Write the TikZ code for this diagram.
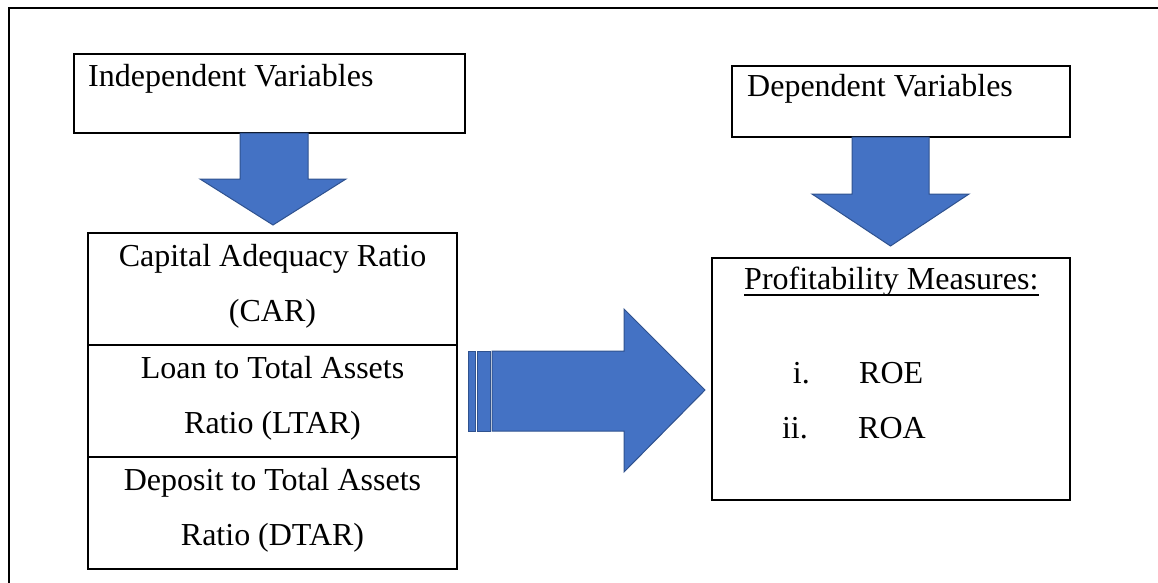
\documentclass[tikz,border=0pt]{standalone}
\usepackage{fontspec}
\setmainfont{Liberation Serif}
\usetikzlibrary{calc}
\definecolor{arrowblue}{HTML}{4472C4}
\definecolor{arrowedge}{HTML}{2F528F}
\begin{document}
\begin{tikzpicture}[x=1pt,y=-1pt,
    box/.style ={draw,line width=2.2pt,inner sep=0pt,outer sep=0pt},
    cell/.style ={box,minimum width=369pt,minimum height=112pt,align=center,text depth=13pt,font=\fontsize{32}{55}\selectfont},
    vartext/.style ={inner sep=0pt,anchor=base west,font=\fontsize{32}{38}\selectfont},
    blockarrow/.style ={fill=arrowblue,draw=arrowedge,line width=1pt,line join=miter}]
  \useasboundingbox (0,0) rectangle (1158,583);
  \draw[line width=2.4pt] (9,590) -- (9,8) -- (1165,8);
  % variable headings
  \node[box,minimum width=391pt,minimum height=79pt] (indep) at (269.5,93.5) {};
  \node[vartext] (indeplabel) at ($(indep.north west)+(14,33)$) {Independent Variables};
  \node[box,minimum width=338pt,minimum height=71pt] (dep) at (901,101.5) {};
  \node[vartext] (deplabel) at ($(dep.north west)+(15,31)$) {Dependent Variables};
  % independent ratios
  \node[cell] (car) at (272.5,289) {Capital Adequacy Ratio\\(CAR)};
  \node[cell,anchor=north] (ltar) at (car.south) {Loan to Total Assets\\Ratio (LTAR)};
  \node[cell,anchor=north] (dtar) at (ltar.south) {Deposit to Total Assets\\Ratio (DTAR)};
  % profitability
  \node[box,minimum width=358pt,minimum height=242pt] (profit) at (891,379) {};
  \node[vartext] (pm) at ($(profit.north west)+(32,31)$) {Profitability Measures:};
  \draw[line width=1.5pt] ($(pm.base west)+(0,6)$) -- ($(pm.base east)+(0,6)$);
  \node[vartext,anchor=base east] (i) at ($(profit.north west)+(98,125)$) {i.};
  \node[vartext] (roe) at ($(profit.north west)+(147,125)$) {ROE};
  \node[vartext,anchor=base east] (ii) at ($(profit.north west)+(96,180)$) {ii.};
  \node[vartext] (roa) at ($(profit.north west)+(146,180)$) {ROA};
  % block arrows
  \draw[blockarrow] (240,133) -- (308,133) -- (308,179) -- (346,179) -- (273,225) -- (200,179) -- (240,179) -- cycle;
  \draw[blockarrow] (852,137) -- (929,137) -- (929,194) -- (969,194) -- (890.5,246) -- (812,194) -- (852,194) -- cycle;
  \draw[blockarrow] (468,351) rectangle (475,431);
  \draw[blockarrow] (477,351) rectangle (490,431);
  \draw[blockarrow] (492,351) -- (624,351) -- (624,309) -- (705,390) -- (624,472) -- (624,431) -- (492,431) -- cycle;
\end{tikzpicture}
\end{document}
